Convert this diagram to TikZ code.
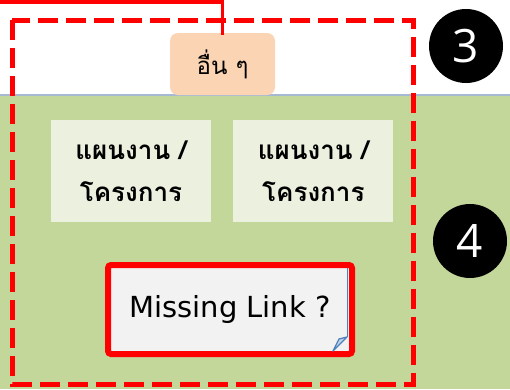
\documentclass[tikz,border=0pt]{standalone}
\usepackage{fontspec}
\setmainfont{DejaVu Sans}
\newfontfamily\thaifont[Script=Thai]{Loma}
\newfontfamily\numfont{Open Sans}
\usetikzlibrary{positioning}
\definecolor{bandgreen}{HTML}{C4D79B}
\definecolor{planfill}{HTML}{EBF1DE}
\definecolor{otherfill}{HTML}{FBD4B4}
\definecolor{linkfill}{HTML}{F2F2F2}
\definecolor{foldblue}{HTML}{4F81BD}
\definecolor{bandline}{HTML}{A6B9D3}
\tikzset{
  plan box/.style={
    fill=planfill,               % light green card
    minimum width=160pt, minimum height=102pt,
    align=center, inner sep=0pt,
    font=\thaifont\bfseries\fontsize{26}{42}\selectfont
  },
  other box/.style={
    fill=otherfill, rounded corners=8pt,
    minimum width=105pt, minimum height=62pt,
    font=\thaifont\fontsize{24}{26}\selectfont
  },
  link box/.style={
    draw=red, line width=6pt, fill=linkfill, rounded corners=3pt,
    minimum width=244pt, minimum height=89pt,
    font=\fontsize{29}{32}\selectfont
  },
  num circle/.style={
    circle, fill=black, text=white, inner sep=0pt,
    minimum size=74pt, font=\numfont\fontsize{46}{46}\selectfont
  },
  scope line/.style={draw=red, line width=5pt, dash pattern=on 20pt off 8pt}
}

\begin{document}
\begin{tikzpicture}[x=1pt, y=-1pt]
    \useasboundingbox (0,0) rectangle (510,389);

    % Bands
    \fill[bandgreen] (0,95) rectangle (510,389);
    \draw[bandline, line width=2pt] (0,95) -- (510,95);

    % Cards
    \node[other box] (other) at (222.5,64) {อื่น ๆ};
    \node[plan box] (planA) at (131,171) {แผนงาน /\\โครงการ};
    \node[plan box, right=22pt of planA] (planB) {แผนงาน /\\โครงการ};
    \node[link box] (link) at (230,309.5) {Missing Link ?};

    % Folded corner of the note
    \draw[foldblue, line width=1pt] (347,268) -- (347,337);
    \draw[foldblue, line width=1.3pt, fill=foldblue!35, line join=round]
      (333,351) -- (347,337) -- (339,339) -- cycle;

    % Dashed scope frame
    \draw[scope line] (12,20) rectangle (413,384);

    % Connector from the left
    \coordinate (entry) at (0,2);
    \draw[red, line width=3.5pt] (entry) -| ([yshift=-2pt]other.north);

    % Step numbers
    \node[num circle] (three) at (466,46) {3};
    \node[num circle] (four) at (470,241) {4};
\end{tikzpicture}
\end{document}
